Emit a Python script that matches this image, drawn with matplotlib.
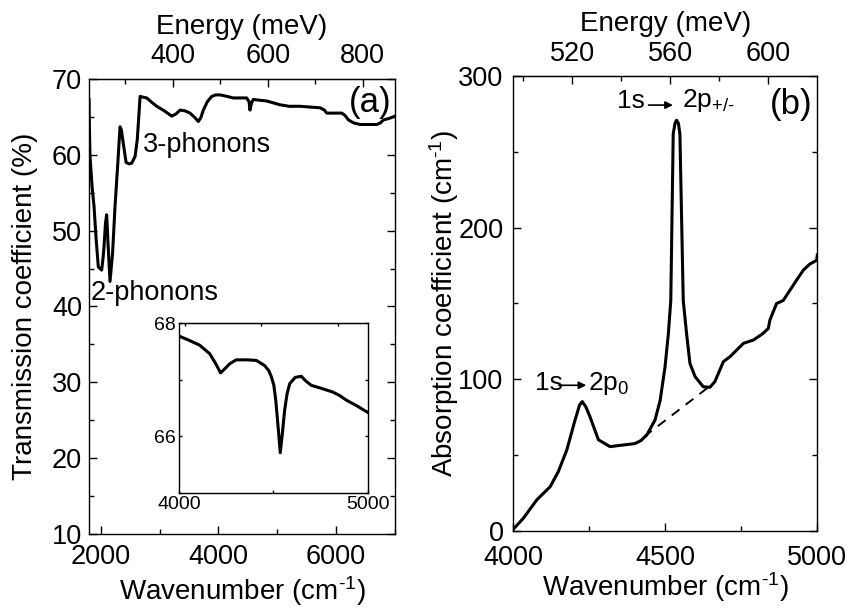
import numpy as np
import matplotlib
matplotlib.use("Agg")
import matplotlib.pyplot as plt
from matplotlib.ticker import MultipleLocator, FixedLocator

plt.rcParams['font.family'] = ['Liberation Sans', 'DejaVu Sans']
plt.rcParams['mathtext.fontset'] = 'custom'
plt.rcParams['mathtext.rm'] = 'Liberation Sans'
plt.rcParams['mathtext.it'] = 'Liberation Sans:italic'

MEV = 8.06554  # cm^-1 per meV

# (a) transmission spectrum
trans_wn = [1800, 1808, 1817, 1850, 1885, 1920, 1958, 2015, 2040, 2055, 2080, 2100,
            2125, 2157, 2200, 2242, 2290, 2327, 2350, 2373, 2430, 2480, 2526, 2583,
            2620, 2668, 2720, 2781, 2870, 2951, 3080, 3206, 3280, 3347, 3430, 3517,
            3600, 3658, 3700, 3743, 3810, 3885, 3950, 4027, 4150, 4248, 4380, 4480,
            4520, 4535, 4560, 4592, 4700, 4818, 5045, 5200, 5386, 5550, 5726, 5800,
            5840, 5950, 6095, 6150, 6208, 6300, 6407, 6550, 6690, 6750, 6803, 6900, 7000]
trans_val = [67.3, 63.0, 59.8, 56.0, 53.2, 49.0, 45.2, 44.8, 46.5, 47.9, 51.0, 52.1,
             48.0, 43.3, 47.0, 53.2, 59.0, 63.7, 63.3, 62.0, 59.0, 58.8, 58.9, 59.8,
             62.0, 67.7, 67.6, 67.5, 66.9, 66.4, 65.8, 65.1, 65.4, 65.9, 65.8, 65.5,
             64.9, 64.4, 64.9, 65.9, 67.0, 67.7, 67.9, 67.9, 67.7, 67.5, 67.5, 67.5,
             67.0, 65.9, 66.8, 67.3, 67.2, 67.1, 66.6, 66.4, 66.4, 66.3, 66.2, 65.9,
             65.5, 65.5, 65.5, 65.2, 64.6, 64.2, 64.0, 64.0, 64.0, 64.2, 64.6, 64.8, 65.1]

# inset: zoom of the 4000-5000 cm^-1 range
inset_wn = [4000, 4050, 4109, 4162, 4195, 4220, 4245, 4268, 4303, 4360, 4409, 4453,
            4475, 4489, 4502, 4512, 4525, 4536, 4547, 4559, 4572, 4586, 4615, 4647,
            4670, 4700, 4760, 4815, 4850, 4885, 4940, 5000]
inset_val = [67.77, 67.70, 67.61, 67.46, 67.28, 67.12, 67.20, 67.28, 67.35, 67.35,
             67.34, 67.25, 67.16, 67.05, 66.90, 66.64, 66.15, 65.71, 66.05, 66.46,
             66.75, 66.93, 67.04, 67.06, 66.98, 66.90, 66.84, 66.78, 66.72, 66.64,
             66.54, 66.42]

# (b) absorption spectrum
abs_wn = [4000, 4033, 4077, 4121, 4148, 4176, 4203, 4218, 4227, 4238, 4252, 4280,
          4318, 4362, 4400, 4420, 4439, 4466, 4483, 4499, 4510, 4518, 4526, 4532,
          4537, 4543, 4548, 4559, 4565, 4570, 4581, 4598, 4625, 4647, 4663, 4691,
          4713, 4757, 4790, 4822, 4839, 4844, 4866, 4888, 4932, 4954, 4975, 4998, 5000]
abs_val = [1, 8.2, 20.3, 29, 39, 53.3, 73, 83, 85.2, 82, 75.3, 60,
           55.5, 56.6, 57.5, 59.5, 63.2, 73, 86, 108, 130, 152, 262, 269,
           271, 269, 262, 152, 140, 130, 110.5, 101.7, 95, 94.7, 98.4, 111.6,
           114.9, 123.7, 125.9, 130.3, 133.6, 139, 150, 152, 165.5, 172, 176, 178.5, 182]

# dashed background under the 2p+/- line
base_wn = [4430, 4650]
base_val = [62, 96]

top_ticks_a = [400, 600, 800]
top_ticks_b = [520, 560, 600]

TICK = 19.5
LAB = 20
WN_LABEL = r'Wavenumber (cm$^{\text{-}1}$)'


def style(ax, size=TICK, major=6, minor=3.5, pad=7):
    ax.tick_params(which='both', direction='in', top=False, right=True,
                   labelsize=size, width=1.0, pad=pad)
    ax.tick_params(which='major', length=major)
    ax.tick_params(which='minor', length=minor)
    for s in ax.spines.values():
        s.set_linewidth(1.0)


def energy_axis(ax, major, minor, labels=True, size=TICK, mlen=6, nlen=3.5):
    sec = ax.secondary_xaxis('top', functions=(lambda x: x / MEV, lambda e: e * MEV))
    if isinstance(major, list):
        sec.xaxis.set_major_locator(FixedLocator(major))
    else:
        sec.xaxis.set_major_locator(MultipleLocator(major))
    sec.xaxis.set_minor_locator(MultipleLocator(minor))
    sec.tick_params(which='both', direction='in', labelsize=size, width=1.0, pad=7)
    sec.tick_params(which='major', length=mlen)
    sec.tick_params(which='minor', length=nlen)
    if labels:
        sec.set_xlabel('Energy (meV)', fontsize=LAB, labelpad=7)
    else:
        sec.tick_params(which='both', labeltop=False)
    return sec


fig = plt.figure(figsize=(8.51, 6.09), dpi=100)

# ---- panel (a)
ax1 = fig.add_axes([0.1046, 0.1232, 0.3596, 0.7471])
ax1.plot(trans_wn, trans_val, color='black', lw=2.2)
ax1.set_xlim(1800, 7000)
ax1.set_ylim(10, 70)
ax1.xaxis.set_major_locator(MultipleLocator(2000))
ax1.xaxis.set_minor_locator(MultipleLocator(1000))
ax1.yaxis.set_major_locator(MultipleLocator(10))
ax1.yaxis.set_minor_locator(MultipleLocator(5))
style(ax1)
ax1.tick_params(axis='y', pad=5)
energy_axis(ax1, top_ticks_a, 100)
ax1.set_xlabel(WN_LABEL, fontsize=LAB, labelpad=3)
ax1.set_ylabel('Transmission coefficient (%)', fontsize=LAB, labelpad=10)
ax1.text(2720, 61.3, '3-phonons', fontsize=19.5, va='center', ha='left')
ax1.text(1825, 41.8, '2-phonons', fontsize=19.5, va='center', ha='left')
ax1.text(0.99, 0.985, '(a)', transform=ax1.transAxes, fontsize=25,
         ha='right', va='top')

# inset
axi = fig.add_axes([0.2103, 0.1905, 0.2221, 0.2791])
axi.plot(inset_wn, inset_val, color='black', lw=2.2)
axi.set_xlim(4000, 5000)
axi.set_ylim(65, 68)
axi.xaxis.set_major_locator(MultipleLocator(1000))
axi.xaxis.set_minor_locator(MultipleLocator(500))
axi.yaxis.set_major_locator(MultipleLocator(2))
axi.yaxis.set_minor_locator(MultipleLocator(1))
axi.set_yticks([66, 68])
style(axi, size=14, major=2.5, minor=2, pad=2)
energy_axis(axi, 50, 50, labels=False, mlen=2.5, nlen=2)

# ---- panel (b)
ax2 = fig.add_axes([0.6032, 0.1286, 0.3572, 0.7461])
ax2.plot(abs_wn, abs_val, color='black', lw=2.2)
ax2.plot(base_wn, base_val, color='black', lw=1.4, ls=(0, (5, 4)))
ax2.set_xlim(4000, 5000)
ax2.set_ylim(0, 300)
ax2.xaxis.set_major_locator(MultipleLocator(500))
ax2.xaxis.set_minor_locator(MultipleLocator(250))
ax2.yaxis.set_major_locator(MultipleLocator(100))
ax2.yaxis.set_minor_locator(MultipleLocator(50))
style(ax2)
ax2.tick_params(axis='x', pad=10)
energy_axis(ax2, top_ticks_b, 20)
ax2.set_xlabel(WN_LABEL, fontsize=LAB, labelpad=0)
ax2.set_ylabel(r'Absorption coefficient (cm$^{\text{-}1}$)', fontsize=LAB, labelpad=-2)
ax2.text(0.985, 0.975, '(b)', transform=ax2.transAxes, fontsize=25,
         ha='right', va='top')

# 1s -> 2p+/- label
ax2.text(4340, 284, '1s', fontsize=19, va='center', ha='left')
ax2.annotate('', xy=(4525, 281), xytext=(4445, 281),
             arrowprops=dict(arrowstyle='-|>', color='black', lw=1.2,
                             mutation_scale=11, shrinkA=0, shrinkB=0))
ax2.text(4556, 284, r'2p$_{\text{+/-}}$', fontsize=19, va='center', ha='left')

# 1s -> 2p0 label
ax2.text(4070, 97.5, '1s', fontsize=19, va='center', ha='left')
ax2.annotate('', xy=(4240, 96), xytext=(4150, 96),
             arrowprops=dict(arrowstyle='-|>', color='black', lw=1.2,
                             mutation_scale=11, shrinkA=0, shrinkB=0))
ax2.text(4245, 97.5, '2p$_0$', fontsize=19, va='center', ha='left')

fig.savefig('out.png', dpi=100)
